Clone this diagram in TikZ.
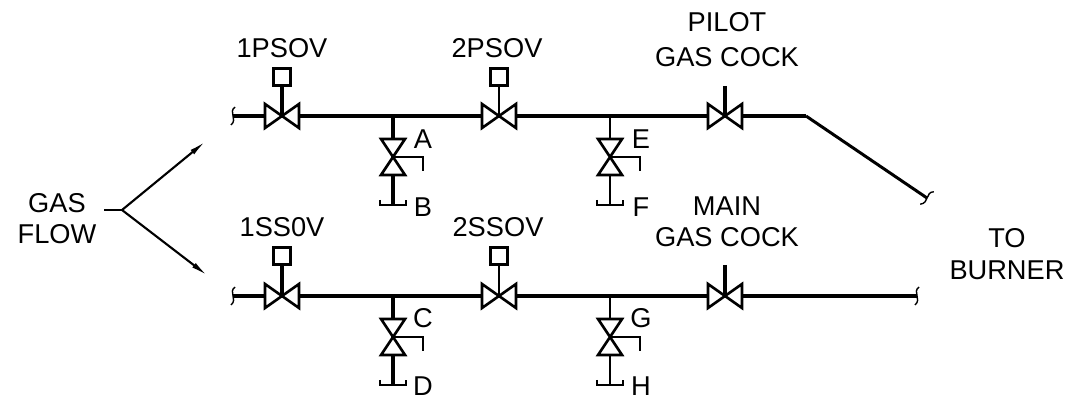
\documentclass[tikz,border=0pt]{standalone}
\usepackage{fontspec}
\setmainfont{Liberation Sans}
\usetikzlibrary{arrows.meta}
\tikzset{
  pipe/.style={line width=1.9pt,black},
  thinpipe/.style={line width=1.3pt,black},
  flow/.style={line width=1.2pt,black,-{Latex[length=10pt,width=3.2pt]}},
  lbl/.style={inner sep=0pt,font=\fontsize{15.5}{17.6}\selectfont,align=center},
  actuator/.style={draw,line width=1.5pt,fill=white,minimum size=10pt,inner sep=0pt},
  valveh/.pic={
    \draw [line width=1.5pt,fill=white,line join=miter] (-17,12) -- (17,-12) -- (17,12) -- (-17,-12) -- cycle;
  },
  valvev/.pic={
    \draw [line width=1.5pt,fill=white,line join=miter] (-12,18) -- (12,18) -- (-12,-18) -- (12,-18) -- cycle;
    \draw [thinpipe] (0,0) -- (30,0) -- (30,-14);
  },
  capped/.pic={
    \draw [thinpipe] (-13,5) -- (-13,0) -- (13,0) -- (13,5);
  },
  pipeend/.pic={
    \draw [line width=0.8pt] (2,9) .. controls (-5,4) and (5,-3) .. (-2,-9);
  }
}

\begin{document}
\begin{tikzpicture}[x=0.02cm,y=0.02cm]
\useasboundingbox (0,0) rectangle (1076,-398);
% upper line
\coordinate (pstart) at (233,-116);
\coordinate (v1p) at (282,-116);
\coordinate (tA) at (393,-116);
\coordinate (v2p) at (499,-116);
\coordinate (tE) at (610,-116);
\coordinate (vpc) at (725,-116);
\coordinate (pbend) at (806,-116);
\coordinate (pend) at (927,-198);
\coordinate (vA) at (393,-157);
\coordinate (cB) at (393,-205);
\coordinate (vE) at (610,-157);
\coordinate (cF) at (610,-205);
\coordinate (tpc) at (725,-86);
\node [actuator] (s1p) at (282,-77) {};
\node [actuator] (s2p) at (499,-77) {};
\draw [pipe] (pstart) -- (pbend);
\draw [line width=1.7pt] (pbend) -- (pend);
\draw [pipe] (tA) -- (vA);
\draw [pipe] (vA) -- (cB);
\draw [thinpipe] (tE) -- (vE);
\draw [thinpipe] (vE) -- (cF);
\pic at (v1p) {valveh};
\pic at (v2p) {valveh};
\pic at (vpc) {valveh};
\pic at (vA) {valvev};
\pic at (vE) {valvev};
\pic at (cB) {capped};
\pic at (cF) {capped};
\pic at (pstart) {pipeend};
\pic [rotate=-35] at (pend) {pipeend};
\draw [pipe] (s1p) -- (v1p);
\draw [thinpipe] (s2p) -- (v2p);
\draw [pipe] (tpc) -- (vpc);
% lower line
\coordinate (sstart) at (233,-296);
\coordinate (v1s) at (282,-296);
\coordinate (tC) at (393,-296);
\coordinate (v2s) at (499,-296);
\coordinate (tG) at (610,-296);
\coordinate (vmc) at (725,-296);
\coordinate (send) at (917,-296);
\coordinate (vC) at (393,-337);
\coordinate (cD) at (393,-385);
\coordinate (vG) at (610,-337);
\coordinate (cH) at (610,-385);
\coordinate (tmc) at (725,-265);
\node [actuator] (s1s) at (282,-256) {};
\node [actuator] (s2s) at (499,-256) {};
\draw [pipe] (sstart) -- (send);
\draw [pipe] (tC) -- (vC);
\draw [pipe] (vC) -- (cD);
\draw [thinpipe] (tG) -- (vG);
\draw [thinpipe] (vG) -- (cH);
\pic at (v1s) {valveh};
\pic at (v2s) {valveh};
\pic at (vmc) {valveh};
\pic at (vC) {valvev};
\pic at (vG) {valvev};
\pic at (cD) {capped};
\pic at (cH) {capped};
\pic at (sstart) {pipeend};
\pic at (send) {pipeend};
\draw [pipe] (s1s) -- (v1s);
\draw [thinpipe] (s2s) -- (v2s);
\draw [pipe] (tmc) -- (vmc);
% gas flow
\coordinate (gstub) at (104,-210);
\coordinate (gfork) at (122,-210);
\coordinate (gup) at (206,-141);
\coordinate (gdn) at (208,-276);
\draw [line width=1.3pt] (gstub) -- (gfork);
\draw [flow] (gfork) -- (gup);
\draw [flow] (gfork) -- (gdn);
% labels
\node [lbl] (gasflow) at (57,-218.5) {GAS\\FLOW};
\node [lbl] (l1p) at (282,-48) {1PSOV};
\node [lbl] (l2p) at (497,-48) {2PSOV};
\node [lbl] (lpc) at (727,-39.5) {PILOT\\[2pt]GAS COCK};
\node [lbl] (l1s) at (282,-227) {1SS0V};
\node [lbl] (l2s) at (498,-227) {2SSOV};
\node [lbl] (lmc) at (727,-221.5) {MAIN\\GAS COCK};
\node [lbl] (lburner) at (1007,-254) {TO\\[0.6pt]BURNER};
\node [lbl] (lA) at (423,-139) {A};
\node [lbl] (lB) at (423,-207) {B};
\node [lbl] (lC) at (423,-318) {C};
\node [lbl] (lD) at (423,-386) {D};
\node [lbl] (lE) at (641,-139) {E};
\node [lbl] (lF) at (641,-207) {F};
\node [lbl] (lG) at (641,-318) {G};
\node [lbl] (lH) at (641,-386) {H};
\end{tikzpicture}
\end{document}
